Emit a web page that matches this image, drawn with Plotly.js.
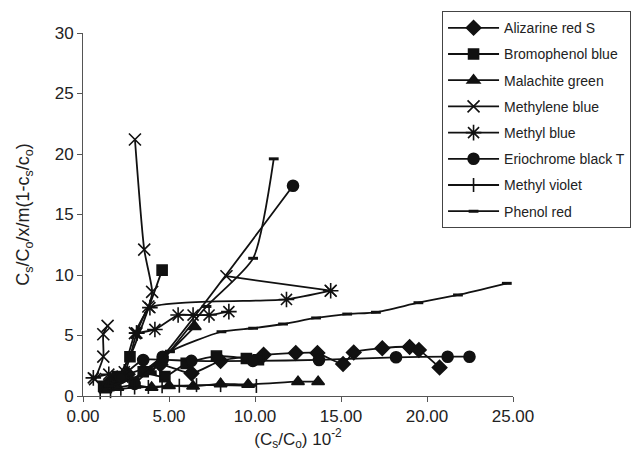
<!DOCTYPE html>
<html>
<head>
<meta charset="utf-8">
<script src="https://cdn.plot.ly/plotly-3.0.1.min.js"></script>
<style>html,body{margin:0;padding:0;background:#fff;}#chart{width:636px;height:457px;}</style>
</head>
<body>
<div id="chart"></div>
<script>
// ---- data ----
const seriesNames = ["Alizarine red S","Bromophenol blue","Malachite green","Methylene blue","Methyl blue","Eriochrome black T","Methyl violet","Phenol red"];

const alizarinX = [1.6, 2.6, 4.5, 6.31, 8.0, 10.5, 12.37, 13.63, 15.12, 15.74, 17.4, 18.99, 19.53, 20.73];
const alizarinY = [1.2, 1.8, 2.6, 1.87, 2.9, 3.4, 3.55, 3.55, 2.65, 3.6, 3.95, 4.05, 3.8, 2.35];

const bromoX = [1.2, 2.0, 2.73, 4.6];
const bromoY = [0.8, 1.6, 3.25, 10.4];
const bromo2X = [3.5, 4.76, 6.0, 7.76, 9.5, 10.2];
const bromo2Y = [2.0, 1.6, 2.7, 3.3, 3.1, 3.0];

const malachiteX = [1.3, 2.0, 3.0, 3.99, 5.0, 6.4, 8.0, 9.6, 12.5, 13.67];
const malachiteY = [0.5, 0.7, 0.9, 0.7, 0.85, 0.8, 1.0, 0.95, 1.18, 1.18];
const malachite2X = [3.9, 6.5];
const malachite2Y = [2.0, 5.73];

const methyleneX = [0.7, 1.18, 1.18, 1.43];
const methyleneY = [1.4, 3.25, 5.1, 5.8];
const methylene2X = [2.3, 3.02, 3.8, 4.02, 3.56, 3.02];
const methylene2Y = [1.6, 5.2, 7.4, 8.6, 12.1, 21.2];
const methylene3X = [8.34, 14.4];
const methylene3Y = [9.9, 8.7];

const methylBlueX = [0.6, 1.5, 2.4, 3.12, 3.89, 11.83, 14.4];
const methylBlueY = [1.5, 1.8, 2.0, 5.2, 7.3, 7.98, 8.7];
const methylBlue2X = [3.12, 4.18, 5.53, 6.4, 7.33, 8.48];
const methylBlue2Y = [5.2, 5.5, 6.69, 6.69, 6.69, 6.97];

const eriochromeX = [2.2, 3.5, 4.63, 6.3, 9.87, 13.72, 18.2, 21.2, 22.47];
const eriochromeY = [1.5, 2.98, 3.0, 2.9, 2.9, 2.98, 3.2, 3.25, 3.25];
const eriochrome2X = [3.0, 4.63, 12.21];
const eriochrome2Y = [1.0, 3.25, 17.38];

const violetX = [1.0, 1.6, 2.2, 3.0, 3.8, 4.6, 5.6, 6.6, 8.0, 10.08];
const violetY = [0.3, 0.4, 0.6, 0.7, 0.75, 0.8, 0.85, 0.9, 0.9, 0.83];

const phenolX = [1.5, 3.0, 5.05, 8.05, 9.89, 11.63, 13.55, 15.36, 17.03, 19.5, 21.8, 24.64];
const phenolY = [0.8, 1.5, 3.66, 5.31, 5.6, 5.95, 6.45, 6.77, 6.92, 7.71, 8.35, 9.31];
const phenol2X = [4.0, 5.05, 7.18, 9.89, 11.09];
const phenol2Y = [2.0, 3.7, 7.4, 11.38, 19.6];

const xTicks = [0, 5, 10, 15, 20, 25];
const yTicks = [0, 5, 10, 15, 20, 25, 30];

// ---- build traces ----
const ink = "#111";
function tr(name, x, y, symbol, size, show) {
  return {
    type: "scatter", mode: "lines+markers", name: name, x: x, y: y,
    legendgroup: name, showlegend: show,
    line: {color: ink, width: 1.8, shape: "spline", smoothing: 0.6},
    marker: {symbol: symbol, size: size, color: ink, line: {color: ink, width: symbol === "line-ew-open" ? 3 : 1.6}},
    cliponaxis: false
  };
}
const traces = [
  tr(seriesNames[0], alizarinX, alizarinY, "diamond", 11, true),
  tr(seriesNames[1], bromoX, bromoY, "square", 10, true),
  tr(seriesNames[1], bromo2X, bromo2Y, "square", 10, false),
  tr(seriesNames[2], malachiteX, malachiteY, "triangle-up", 11, true),
  tr(seriesNames[2], malachite2X, malachite2Y, "triangle-up", 11, false),
  tr(seriesNames[3], methyleneX, methyleneY, "x-thin-open", 12, true),
  tr(seriesNames[3], methylene2X, methylene2Y, "x-thin-open", 12, false),
  tr(seriesNames[3], methylene3X, methylene3Y, "x-thin-open", 12, false),
  tr(seriesNames[4], methylBlueX, methylBlueY, "asterisk-open", 13, true),
  tr(seriesNames[4], methylBlue2X, methylBlue2Y, "asterisk-open", 13, false),
  tr(seriesNames[5], eriochromeX, eriochromeY, "circle", 11, true),
  tr(seriesNames[5], eriochrome2X, eriochrome2Y, "circle", 11, false),
  tr(seriesNames[6], violetX, violetY, "line-ns-open", 10, true),
  tr(seriesNames[7], phenolX, phenolY, "line-ew-open", 7, true),
  tr(seriesNames[7], phenol2X, phenol2Y, "line-ew-open", 7, false)
];

const fontFam = "Liberation Sans, Arial, sans-serif";
const layout = {
  width: 636, height: 457,
  margin: {l: 83, r: 123, t: 33, b: 61, pad: 0, autoexpand: false},
  paper_bgcolor: "#fff", plot_bgcolor: "#fff",
  font: {family: fontFam, color: "#222", size: 17},
  showlegend: true,
  xaxis: {
    range: [0, 25], tickvals: xTicks, ticktext: xTicks.map(v => v.toFixed(2)),
    showgrid: false, zeroline: false, showline: true, linecolor: "#555", linewidth: 1,
    ticks: "outside", ticklen: 5, tickcolor: "#555", tickfont: {size: 17, color: "#222"},
    title: {text: "(C<sub>s</sub>/C<sub>o</sub>) 10<sup>-2</sup>", font: {size: 17, color: "#222"}, standoff: 6},
    fixedrange: true
  },
  yaxis: {
    range: [0, 30], tickvals: yTicks, ticktext: yTicks.map(String),
    showgrid: false, zeroline: false, showline: true, linecolor: "#555", linewidth: 1,
    ticks: "outside", ticklen: 5, tickcolor: "#555", tickfont: {size: 17, color: "#222"},
    title: {text: "C<sub>s</sub>/C<sub>o</sub>/x/m(1-c<sub>s</sub>/c<sub>o</sub>)", font: {size: 18, color: "#222"}, standoff: 20},
    fixedrange: true
  },
  legend: {
    x: 0.835, y: 1.06, xanchor: "left", yanchor: "top",
    bordercolor: "#444", borderwidth: 1, bgcolor: "#fff",
    font: {size: 14, color: "#222", family: fontFam},
    traceorder: "grouped", tracegroupgap: 5, itemwidth: 51
  }
};
Plotly.newPlot("chart", traces, layout, {displayModeBar: false, staticPlot: true});
</script>
</body>
</html>
